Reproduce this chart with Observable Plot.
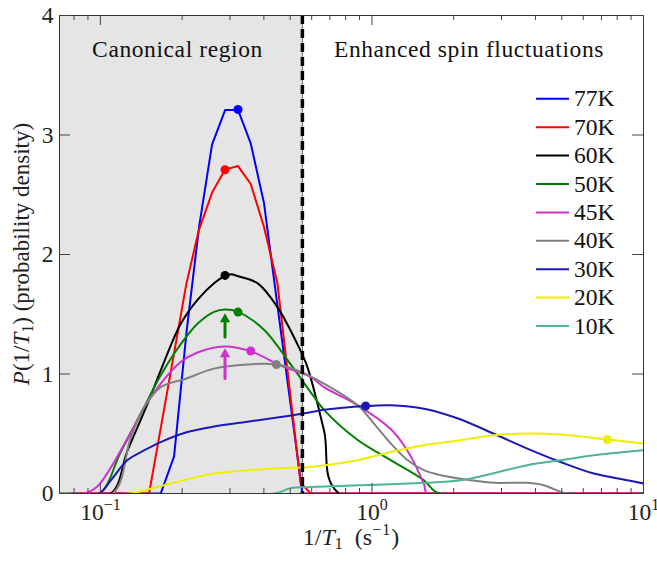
<!DOCTYPE html>
<html><head><meta charset="utf-8">
<script src="https://cdn.jsdelivr.net/npm/d3@7"></script>
<script src="https://cdn.jsdelivr.net/npm/@observablehq/plot@0.6"></script>
<style>
body{margin:0;background:#fff;}
#chart svg{display:block;}
</style></head><body><div id="chart"></div>
<script>
// ---------- data ----------
const temps  = ["77K","70K","60K","50K","45K","40K","30K","20K","10K"];
const colors = ["#0000ff","#ff0000","#000000","#008000","#cc33cc","#808080","#1a1ab3","#eeee00","#4db399"];

const x77 = [0.0707,0.1668,0.1868,0.2080,0.2312,0.2577,0.2882,0.3212,0.3578,0.4004,0.4459,0.4979,0.5545,10];
const y77 = [0,0,0.31,1.37,2.24,2.92,3.21,3.21,2.93,2.43,1.62,0.80,0,0];

const x70 = [0.0707,0.1511,0.1675,0.1863,0.2071,0.2302,0.2581,0.2877,0.3212,0.3578,0.4004,0.4486,0.4979,0.5465,0.5619,0.5947,10];
const y70 = [0,0,0.57,1.16,1.75,2.20,2.52,2.71,2.74,2.59,2.23,1.76,0.87,0.08,0.06,0,0];

const x60 = [0.0707,0.1092,0.1259,0.1491,0.1668,0.1977,0.2278,0.2621,0.2877,0.3032,0.3196,0.3787,0.4486,0.5313,0.5782,0.6658,0.7557,10];
const y60 = [0,0,0.36,0.75,1.03,1.42,1.62,1.76,1.82,1.835,1.82,1.76,1.56,1.25,1.06,0.53,0,0];

const x50 = [0.0707,0.0989,0.1189,0.1448,0.1668,0.1977,0.2278,0.2621,0.2882,0.3212,0.4004,0.5021,0.6115,0.6658,0.8837,1.1717,1.5542,1.7650,10];
const y50 = [0,0,0.35,0.72,0.99,1.25,1.42,1.52,1.54,1.52,1.37,1.08,0.81,0.70,0.45,0.28,0.11,0,0];

const x45 = [0.0707,0.0876,0.0976,0.1294,0.1448,0.1668,0.1977,0.2278,0.2853,0.3578,0.4613,0.5947,0.6658,0.8837,1.1717,1.3499,1.5542,1.5996,10];
const y45 = [0,0,0.06,0.51,0.72,0.92,1.10,1.18,1.23,1.19,1.07,0.975,0.89,0.74,0.54,0.36,0.08,0,0];

const x40 = [0.0707,0.1108,0.1294,0.1448,0.1668,0.2062,0.2621,0.3478,0.4448,0.5313,0.6658,0.8837,1.0171,1.1717,1.3499,1.5542,1.7903,2.3087,2.8119,3.7325,4.2954,4.9487,5.2369];
const y40 = [0,0,0.47,0.72,0.89,0.96,1.045,1.08,1.08,1.03,0.92,0.74,0.585,0.42,0.28,0.195,0.153,0.111,0.089,0.089,0.069,0.013,0];

const x30 = [0.0707,0.0989,0.1092,0.1259,0.1448,0.1668,0.2062,0.2621,0.3478,0.4613,0.5947,0.6658,0.9480,1.1717,1.5542,2.0624,2.8119,3.7325,4.9487,6.5647,8.7096,10];
const y30 = [0,0,0.11,0.28,0.36,0.43,0.51,0.56,0.60,0.64,0.68,0.70,0.732,0.738,0.71,0.63,0.50,0.376,0.264,0.167,0.111,0.084];

const x20 = [0.0707,0.1294,0.1491,0.1716,0.2278,0.2621,0.3478,0.4613,0.5947,0.8837,1.1717,1.5542,2.1210,2.8119,3.7325,4.9487,7.3522,10];
const y20 = [0,0,0.033,0.069,0.139,0.167,0.195,0.214,0.222,0.278,0.348,0.404,0.446,0.487,0.502,0.493,0.452,0.418];

const x10 = [0.0707,0.4358,0.5021,0.5947,1.1717,1.5542,2.1210,2.8119,3.7325,4.9487,6.5647,10];
const y10 = [0,0,0.045,0.055,0.078,0.089,0.111,0.170,0.237,0.278,0.320,0.362];

// marked maxima (dots)
const peakT = ["77K","70K","60K","50K","45K","40K","30K","20K"];
const peakX = [0.3212,0.2877,0.2877,0.3212,0.3578,0.4448,0.9480,7.3522];
const peakY = [3.213,2.709,1.825,1.518,1.192,1.079,0.732,0.452];

// arrows
const arrowT    = ["50K","45K"];
const arrowX    = [0.2877,0.2877];
const arrowBase = [1.309,0.962];
const arrowTip  = [1.505,1.212];

const boundary = 0.5545;   // canonical-region limit
const xMajor = [0.1,1,10];
const xMinor = [0.08,0.09,0.2,0.3,0.4,0.5,0.6,0.7,0.8,0.9,2,3,4,5,6,7,8,9];
const yMajor = [0,1,2,3,4];
const regionLabels = ["Canonical region","Enhanced spin fluctuations"];

// ---------- layout ----------
const W = 657, H = 562;
const mL = 59, mR = 14, mT = 15, mB = 69;
const plotW = W - mL - mR, plotH = H - mT - mB;
const xDomain = [0.0707, 10], yDomain = [0, 4];
const xs = d3.scaleLog(xDomain, [mL, W - mR]);
const ys = d3.scaleLinear(yDomain, [H - mB, mT]);
const FONT = "'Liberation Serif', serif";

const seriesX = [x77,x70,x60,x50,x45,x40,x30,x20,x10];
const seriesY = [y77,y70,y60,y50,y45,y40,y30,y20,y10];
const curves  = ["linear","linear","catmull-rom","catmull-rom","catmull-rom","catmull-rom","catmull-rom","catmull-rom","catmull-rom"];

const lineMarks = temps.map((T, k) => {
  const rows = seriesX[k].map((x, i) => ({T, x, y: seriesY[k][i]}));
  return Plot.line(rows, {x: "x", y: "y", stroke: "T", strokeWidth: 2, curve: curves[k], strokeLinejoin: "round", clip: true});
});

const peaks = peakT.map((T, i) => ({T, x: peakX[i], y: peakY[i]}));
const arrows = arrowT.map((T, i) => ({T, x: arrowX[i], y1: arrowBase[i], y2: arrowTip[i]}));

const legendRows = temps.map((T, i) => ({T, y: ys.invert(98.3 + 28.4 * i)}));
const regionRows = [
  {text: regionLabels[0], x: xs.invert(177), y: ys.invert(48.5)},
  {text: regionLabels[1], x: xs.invert(468.5), y: ys.invert(48.5)}
];

const tickStroke = "#444";
const chart = Plot.plot({
  width: W, height: H,
  marginLeft: mL, marginRight: mR, marginTop: mT, marginBottom: mB,
  style: {fontFamily: FONT, fontSize: "23px", background: "white", color: "#222"},
  x: {type: "log", domain: xDomain},
  y: {domain: yDomain},
  color: {domain: temps, range: colors},
  marks: [
    Plot.rect([boundary], {x1: xDomain[0], x2: d => d, fill: "#e5e5e5"}),
    Plot.ruleX([boundary], {x: d => d, stroke: "#666", strokeWidth: 1}),
    ...lineMarks,
    Plot.ruleX([boundary], {x: d => d, stroke: "black", strokeWidth: 3.5, strokeDasharray: "9,5"}),
    Plot.arrow(arrows, {x1: "x", x2: "x", y1: "y1", y2: "y2", stroke: "T", strokeWidth: 3, headLength: 0, insetEnd: 6}),
    Plot.dot(arrows, {x: "x", y: "y2", symbol: "triangle", r: 3.8, fill: "T", dy: 5.6}),
    Plot.dot(peaks, {x: "x", y: "y", fill: "T", r: 4.5}),
    // legend
    Plot.ruleY(legendRows, {y: "y", x1: xs.invert(536), x2: xs.invert(569), stroke: "T", strokeWidth: 2}),
    Plot.text(legendRows, {y: "y", x: xs.invert(573.5), text: "T", textAnchor: "start", lineAnchor: "middle", fontSize: 23.5, fill: "#111", letterSpacing: 0.4}),
    Plot.text(regionRows, {x: "x", y: "y", text: "text", lineAnchor: "middle", fontSize: 23.5, fill: "#111"}),
    // frame & inward ticks
    Plot.frame({stroke: "#333", strokeWidth: 1}),
    Plot.ruleX(xMajor, {x: d => d, insetTop: plotH - 10, stroke: tickStroke}),
    Plot.ruleX(xMajor, {x: d => d, insetBottom: plotH - 10, stroke: tickStroke}),
    Plot.ruleX(xMinor, {x: d => d, insetTop: plotH - 5, stroke: tickStroke}),
    Plot.ruleX(xMinor, {x: d => d, insetBottom: plotH - 5, stroke: tickStroke}),
    Plot.ruleY(yMajor, {y: d => d, insetRight: plotW - 11, stroke: tickStroke}),
    Plot.ruleY(yMajor, {y: d => d, insetLeft: plotW - 11, stroke: tickStroke}),
    Plot.axisX({ticks: xMajor, tickSize: 0, tickPadding: 10, fontSize: 23.5, label: null,
      tickFormat: d => "10^" + String(Math.round(Math.log10(d))).replace("-", "\u2212")}),
    Plot.axisY({ticks: yMajor, tickSize: 0, tickPadding: 6, fontSize: 23.5, label: null, tickFormat: d => String(d)})
  ]
});
document.getElementById("chart").appendChild(chart);

// letter spacing for the region labels (CM-like width)
d3.select(chart).selectAll('g[aria-label="text"]').filter((d, i) => i === 1)
  .attr("letter-spacing", "0.6px");

// ---------- typeset tick exponents and axis titles ----------
const svg = d3.select(chart);
svg.selectAll('g[aria-label="x-axis tick label"] text').each(function () {
  const [b, e] = this.textContent.split("^");
  this.textContent = "";
  const t = d3.select(this);
  t.append("tspan").text(b);
  t.append("tspan").attr("dy", -10).attr("font-size", "16px").text(e);
});

const titles = svg.append("g").attr("font-size", 24).attr("fill", "#222").attr("font-family", FONT);
const xl = titles.append("text").attr("x", mL + plotW / 2).attr("y", H - 17).attr("text-anchor", "middle");
xl.append("tspan").text("1/");
xl.append("tspan").attr("font-style", "italic").text("T");
xl.append("tspan").attr("font-size", "16px").attr("dy", 4).text("1");
xl.append("tspan").attr("dy", -4).text("\u2002(s");
xl.append("tspan").attr("font-size", "16px").attr("dy", -10).attr("letter-spacing", "1px").text("\u22121");
xl.append("tspan").attr("dy", 10).text(")");

const yl = titles.append("text").attr("text-anchor", "middle").attr("font-size", 23)
  .attr("transform", `translate(29,${mT + plotH / 2}) rotate(-90)`);
yl.append("tspan").attr("font-style", "italic").text("P");
yl.append("tspan").text("(1/");
yl.append("tspan").attr("font-style", "italic").text("T");
yl.append("tspan").attr("font-size", "16px").attr("dy", 4).text("1");
yl.append("tspan").attr("dy", -4).text(")\u00a0(probability density)");
</script>
</body></html>
